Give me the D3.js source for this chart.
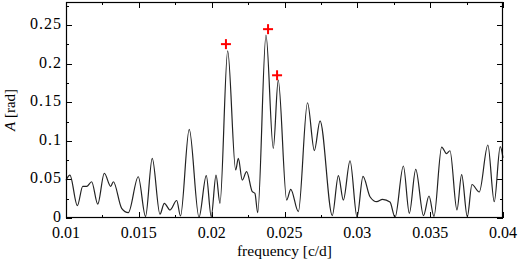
<!DOCTYPE html>
<html>
<head>
<meta charset="utf-8">
<script src="https://cdn.jsdelivr.net/npm/d3@7"></script>
<style>
  body { margin: 0; background: #fff; }
</style>
</head>
<body>
<script>
// chart size and plot box
const w = 520;
const h = 264;
const margin = {left: 66, right: 17, top: 2, bottom: 46};
const FONT = "'Liberation Serif', 'Times New Roman', Times, 'DejaVu Serif', serif";

// amplitude spectrum
const freq = [0.0100, 0.01027, 0.01078, 0.01115, 0.01142, 0.01176, 0.01218, 0.01263, 0.01307, 0.01325,
  0.01382, 0.01428, 0.01496, 0.01546, 0.01592, 0.01645, 0.01675, 0.01714, 0.0176, 0.01786,
  0.01846, 0.01913, 0.01963, 0.01997, 0.0203, 0.02057, 0.0211, 0.02165, 0.02183, 0.0221,
  0.0224, 0.02279, 0.02297, 0.02316, 0.02373, 0.02423, 0.02457, 0.02515, 0.02543, 0.02595,
  0.02658, 0.02705, 0.02744, 0.02828, 0.0287, 0.02904, 0.0295, 0.02998, 0.03039, 0.03087,
  0.03133, 0.03173, 0.03224, 0.03259, 0.03316, 0.03357, 0.03401, 0.03454, 0.03492, 0.03526,
  0.03579, 0.03612, 0.03636, 0.03684, 0.03716, 0.03755, 0.03787, 0.03837, 0.03896, 0.0394,
  0.03981, 0.0400];
const amp = [0.049, 0.0557, 0.016, 0.041, 0.041, 0.047, 0.018, 0.058, 0.041, 0.047,
  0.0126, 0.007, 0.0535, 0.002, 0.0773, 0.005, 0.019, 0.0104, 0.0227, 0.0026,
  0.1149, 0.001, 0.055, 0.0017, 0.0557, 0.019, 0.2167, 0.0622, 0.0773, 0.0492,
  0.060, 0.0341, 0.032, 0.0069, 0.237, 0.0903, 0.1788, 0.0233, 0.0372, 0.0082,
  0.1494, 0.0874, 0.126, 0.0032, 0.055, 0.0233, 0.0742, 0.0013, 0.054, 0.0276,
  0.0211, 0.0242, 0.0207, 0.001, 0.0674, 0.0061, 0.0631, 0.0032, 0.0285, 0.002,
  0.092, 0.0835, 0.0872, 0.0104, 0.0563, 0.0017, 0.0434, 0.0337, 0.0946, 0.0211,
  0.0924, 0.078];

// marked peaks (red crosses)
const peakFreq = [0.02098, 0.02387, 0.02449];
const peakAmp = [0.2254, 0.2448, 0.185];

const xTicks = [0.01, 0.015, 0.02, 0.025, 0.03, 0.035, 0.04];
const yTicks = [0, 0.05, 0.1, 0.15, 0.2, 0.25];

const svg = d3.select("body").append("svg")
  .attr("width", w)
  .attr("height", h)
  .attr("font-family", FONT);

const x = d3.scaleLinear().domain([0.01, 0.04]).range([margin.left, w - margin.right]);
const y = d3.scaleLinear().domain([0, 0.28]).range([h - margin.bottom, margin.top]);

const x0 = margin.left, x1 = w - margin.right;
const y0 = h - margin.bottom, y1 = margin.top;
const major = 6, minor = 3;

// ticks on all four sides, pointing inwards
const ticks = svg.append("g").attr("stroke", "#000").attr("stroke-width", 1);
const xMinor = d3.range(0.0125, 0.04, 0.005);
const yMinor = d3.range(0.025, 0.28, 0.05);
xTicks.concat(xMinor).forEach((t, i) => {
  const len = i < xTicks.length ? major : minor;
  const px = Math.round(x(t)) + 0.5;
  ticks.append("line").attr("x1", px).attr("x2", px).attr("y1", y0).attr("y2", y0 - len);
  ticks.append("line").attr("x1", px).attr("x2", px).attr("y1", y1).attr("y2", y1 + len);
});
yTicks.concat(yMinor).forEach((t, i) => {
  const len = i < yTicks.length ? major : minor;
  const py = Math.round(y(t)) + 0.5;
  ticks.append("line").attr("y1", py).attr("y2", py).attr("x1", x0).attr("x2", x0 + len);
  ticks.append("line").attr("y1", py).attr("y2", py).attr("x1", x1).attr("x2", x1 - len);
});

// tick labels
svg.append("g").selectAll("text")
  .data(xTicks)
  .join("text")
  .attr("x", d => x(d))
  .attr("y", 238)
  .attr("text-anchor", "middle")
  .attr("font-size", 16)
  .text(d => d);

svg.append("g").selectAll("text")
  .data(yTicks)
  .join("text")
  .attr("x", 62)
  .attr("y", d => y(d) + 4)
  .attr("text-anchor", "end")
  .attr("font-size", 16)
  .attr("letter-spacing", 1)
  .text(d => d);

// spectrum line
const line = d3.line()
  .x((d, i) => x(freq[i]))
  .y(d => y(d))
  .curve(d3.curveMonotoneX);

svg.append("path")
  .datum(amp)
  .attr("fill", "none")
  .attr("stroke", "#222")
  .attr("stroke-width", 1.2)
  .attr("d", line);

// red crosses
const cross = svg.append("g").attr("stroke", "#f00").attr("stroke-width", 2);
peakFreq.forEach((f, i) => {
  const cx = x(f), cy = y(peakAmp[i]);
  cross.append("line").attr("x1", cx - 5).attr("x2", cx + 5).attr("y1", cy).attr("y2", cy);
  cross.append("line").attr("x1", cx).attr("x2", cx).attr("y1", cy - 5).attr("y2", cy + 5);
});

// frame
svg.append("rect")
  .attr("x", x0 + 0.5)
  .attr("y", y1 + 0.5)
  .attr("width", x1 - x0 - 1)
  .attr("height", y0 - y1 - 1)
  .attr("fill", "none")
  .attr("stroke", "#000")
  .attr("stroke-width", 1.2);

// axis titles
svg.append("text")
  .attr("x", (x0 + x1) / 2)
  .attr("y", 256)
  .attr("text-anchor", "middle")
  .attr("font-size", 15.5)
  .text("frequency [c/d]");

const yl = svg.append("text")
  .attr("transform", "translate(15,110) rotate(-90)")
  .attr("text-anchor", "middle")
  .attr("font-size", 15);
yl.append("tspan").attr("font-style", "italic").text("A");
yl.append("tspan").text(" [rad]");
</script>
</body>
</html>
